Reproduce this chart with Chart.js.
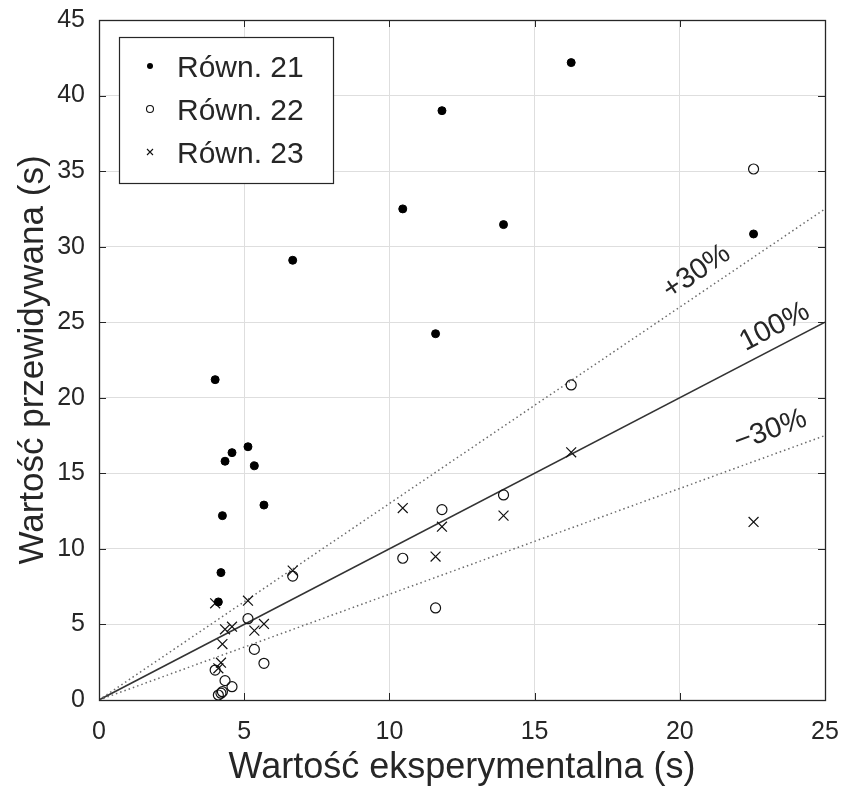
<!DOCTYPE html>
<html>
<head>
<meta charset="utf-8">
<title>Wartość przewidywana vs eksperymentalna</title>
<script src="https://cdn.jsdelivr.net/npm/chart.js@4"></script>
<style>
  html, body { margin: 0; padding: 0; background: #fff; }
  canvas { display: block; }
</style>
</head>
<body>
<canvas id="chart" width="845" height="791"></canvas>
<script>
// measured times (s), one entry per test
const xExp = [4.0, 4.11, 4.2, 4.25, 4.34, 4.58, 5.13, 5.35, 5.68, 6.67, 10.46, 11.59, 11.81, 13.93, 16.26, 22.54];

// predicted times (s) for each equation, same order as xExp
const eq21 = [21.2, 6.49, 8.43, 12.2, 15.8, 16.37, 16.76, 15.5, 12.9, 29.1, 32.5, 24.24, 39.0, 31.46, 42.18, 30.84];
const eq22 = [1.98, 0.33, 0.45, 0.55, 1.28, 0.88, 5.38, 3.35, 2.43, 8.2, 9.38, 6.09, 12.6, 13.57, 20.85, 35.14];
const eq23 = [6.4, 2.1, 2.47, 3.7, 4.68, 4.85, 6.57, 4.59, 5.03, 8.56, 12.7, 9.49, 11.47, 12.2, 16.39, 11.78];

const seriesNames = ["Równ. 21", "Równ. 22", "Równ. 23"];

// reference lines y = k * x
const lineFactors = [1.3, 1.0, 0.7];
const lineLabels = ["+30%", "100%", "\u221230%"];

const xTicks = [0, 5, 10, 15, 20, 25];
const yTicks = [0, 5, 10, 15, 20, 25, 30, 35, 40, 45];

const FONT = "'Liberation Sans', Arial, Helvetica, sans-serif";
const INK = "#262626";

Chart.defaults.font.family = FONT;
Chart.defaults.color = INK;

const toPoints = ys => xExp.map((x, i) => ({ x: x, y: ys[i] }));
const xMax = xTicks[xTicks.length - 1];

const lineSets = lineFactors.map(k => ({
  type: "line",
  data: [{ x: 0, y: 0 }, { x: xMax, y: xMax * k }],
  borderColor: k === 1 ? "#333333" : "#6a6a6a",
  borderWidth: k === 1 ? 1.6 : 1.5,
  borderDash: k === 1 ? [] : [1.5, 3],
  pointRadius: 0,
  fill: false,
  order: 5
}));

const markerSets = [
  { label: seriesNames[0], data: toPoints(eq21), pointStyle: "circle", pointRadius: 4,
    backgroundColor: "#000", borderColor: "#000", borderWidth: 1 },
  { label: seriesNames[1], data: toPoints(eq22), pointStyle: "circle", pointRadius: 5,
    backgroundColor: "rgba(0,0,0,0)", borderColor: "#111", borderWidth: 1.2 },
  { label: seriesNames[2], data: toPoints(eq23), pointStyle: "crossRot", pointRadius: 7,
    backgroundColor: "#111", borderColor: "#111", borderWidth: 1.2 }
].map(d => Object.assign(d, { order: 1, pointHoverRadius: d.pointRadius }));

// keep the plot box fixed: no extra room reserved for overhanging tick labels
function fixBox(size, key) {
  return s => {
    s[key] = size;
    s.paddingLeft = s.paddingRight = s.paddingTop = s.paddingBottom = 0;
  };
}

// box around plot area plus inward tick marks on all four sides
const frame = {
  id: "frame",
  afterDatasetsDraw(chart) {
    const { ctx, chartArea: a, scales: { x, y } } = chart;
    const len = 7;
    ctx.save();
    ctx.strokeStyle = INK;
    ctx.lineWidth = 1;
    ctx.beginPath();
    xTicks.forEach(v => {
      const px = Math.round(x.getPixelForValue(v)) + 0.5;
      ctx.moveTo(px, a.bottom); ctx.lineTo(px, a.bottom - len);
      ctx.moveTo(px, a.top); ctx.lineTo(px, a.top + len);
    });
    yTicks.forEach(v => {
      const py = Math.round(y.getPixelForValue(v)) + 0.5;
      ctx.moveTo(a.left, py); ctx.lineTo(a.left + len, py);
      ctx.moveTo(a.right, py); ctx.lineTo(a.right - len, py);
    });
    ctx.stroke();
    ctx.lineWidth = 1.3;
    ctx.strokeRect(Math.round(a.left) + 0.5, Math.round(a.top) + 0.5,
      Math.round(a.right - a.left), Math.round(a.bottom - a.top));
    ctx.restore();
  }
};

// rotated percentage labels sitting along each reference line
const lineTags = {
  id: "lineTags",
  afterDatasetsDraw(chart) {
    const { ctx, scales: { x, y } } = chart;
    const anchors = [20.96, 23.57, 23.4];
    const lift = [19.6, 19, 23.5];
    ctx.save();
    ctx.fillStyle = INK;
    ctx.font = "29px " + FONT;
    ctx.textAlign = "center";
    ctx.textBaseline = "middle";
    lineFactors.forEach((k, i) => {
      const x0 = x.getPixelForValue(0), y0 = y.getPixelForValue(0);
      const px = x.getPixelForValue(anchors[i]);
      const py = y.getPixelForValue(anchors[i] * k);
      const ang = Math.atan2(py - y0, px - x0);
      ctx.save();
      ctx.translate(px, py);
      ctx.rotate(ang);
      ctx.fillText(lineLabels[i], 0, -lift[i]);
      ctx.restore();
    });
    ctx.restore();
  }
};

// legend box in the upper-left corner of the plot
const legendBox = {
  id: "legendBox",
  afterDraw(chart) {
    const { ctx } = chart;
    const box = { l: 119.5, t: 37.5, w: 214, h: 146 };
    const rows = [77, 120, 163];
    ctx.save();
    ctx.fillStyle = "#fff";
    ctx.fillRect(box.l, box.t, box.w, box.h);
    ctx.strokeStyle = INK;
    ctx.lineWidth = 1.2;
    ctx.strokeRect(box.l, box.t, box.w, box.h);
    ctx.font = "30px " + FONT;
    ctx.textBaseline = "alphabetic";
    ctx.textAlign = "left";
    rows.forEach((base, i) => {
      const mx = 150, my = base - 11;
      ctx.fillStyle = "#000";
      ctx.strokeStyle = "#111";
      ctx.lineWidth = 1.1;
      ctx.beginPath();
      if (i === 0) {
        ctx.arc(mx, my, 3, 0, Math.PI * 2);
        ctx.fill();
      } else if (i === 1) {
        ctx.arc(mx, my, 3.5, 0, Math.PI * 2);
        ctx.stroke();
      } else {
        ctx.moveTo(mx - 3, my - 3); ctx.lineTo(mx + 3, my + 3);
        ctx.moveTo(mx + 3, my - 3); ctx.lineTo(mx - 3, my + 3);
        ctx.stroke();
      }
      ctx.fillStyle = INK;
      ctx.fillText(seriesNames[i], 177, base);
    });
    ctx.restore();
  }
};

new Chart(document.getElementById("chart"), {
  type: "scatter",
  data: { datasets: [...lineSets, ...markerSets] },
  options: {
    responsive: false,
    animation: false,
    layout: { padding: { top: 20, right: 20, left: 0, bottom: 0 } },
    plugins: { legend: { display: false }, tooltip: { enabled: false } },
    scales: {
      x: {
        type: "linear",
        min: 0,
        max: xMax,
        afterBuildTicks: s => { s.ticks = xTicks.map(v => ({ value: v })); },
        afterFit: fixBox(91, "height"),
        ticks: { font: { size: 25 }, color: INK, padding: 17 },
        grid: { color: "#dedede", lineWidth: 1, drawTicks: false },
        border: { display: false },
        title: {
          display: true,
          text: "Wartość eksperymentalna (s)",
          font: { size: 36 },
          color: INK,
          padding: { top: 0, bottom: 1 }
        }
      },
      y: {
        type: "linear",
        min: 0,
        max: 45,
        afterBuildTicks: s => { s.ticks = yTicks.map(v => ({ value: v })); },
        afterFit: fixBox(99, "width"),
        ticks: { font: { size: 25 }, color: INK, padding: 14 },
        grid: { color: "#dedede", lineWidth: 1, drawTicks: false },
        border: { display: false },
        title: {
          display: true,
          text: "Wartość przewidywana (s)",
          font: { size: 35 },
          color: INK,
          padding: { top: 12, bottom: 0 }
        }
      }
    }
  },
  plugins: [frame, lineTags, legendBox]
});
</script>
</body>
</html>
